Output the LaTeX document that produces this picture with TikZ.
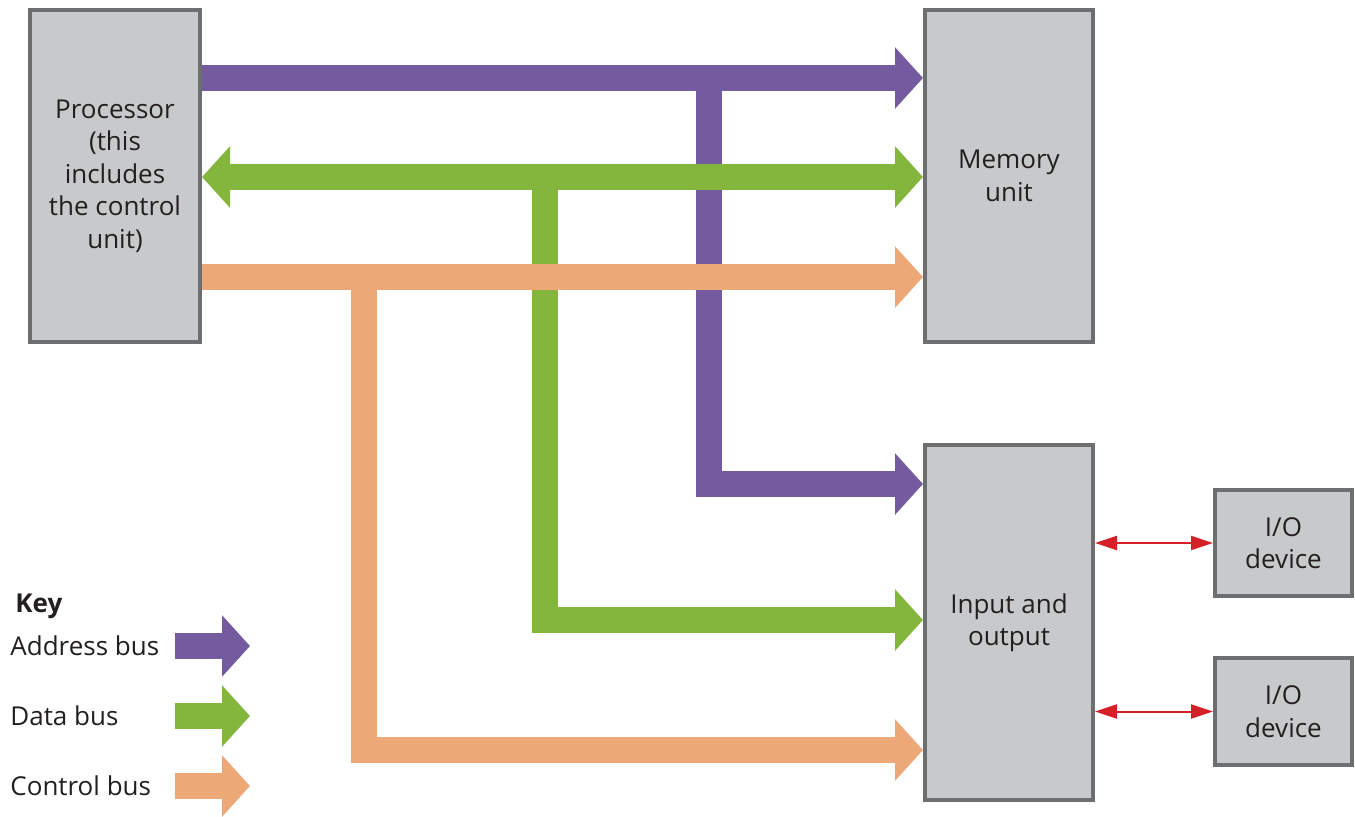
\documentclass[tikz,border=0pt]{standalone}
\usepackage{fontspec}
\setmainfont{Open Sans}
\usepackage{xcolor}
\usetikzlibrary{arrows.meta}

\definecolor{addrc}{HTML}{745A9E}
\definecolor{datac}{HTML}{84B53C}
\definecolor{ctrlc}{HTML}{EDA878}
\definecolor{boxfill}{HTML}{C8C9CB}
\definecolor{boxline}{HTML}{6D6E70}
\definecolor{txtc}{HTML}{231F20}
\definecolor{linkc}{HTML}{D42027}

\begin{document}
\begin{tikzpicture}[x=0.5pt, y=-0.5pt, line join=miter,
    unit/.style={draw=boxline, fill=boxfill, line width=2pt, align=center,
      text=txtc, font=\fontsize{13}{16.25}\selectfont},
    bus/.style={line width=13pt, -{Triangle[length=14pt,width=30pt]}},
    busboth/.style={line width=13pt, {Triangle[length=14pt,width=30pt]}-{Triangle[length=14pt,width=30pt]}},
    link/.style={draw=linkc, line width=1pt, {Triangle[length=11pt,width=7pt]}-{Triangle[length=11pt,width=7pt]}},
    keytxt/.style={anchor=west, text=txtc, font=\fontsize{13}{16}\selectfont, inner sep=0pt}]
  \useasboundingbox (0,0) rectangle (1355,816);

  % units
  \node[unit, minimum width=85pt, minimum height=166pt] (proc) at (115,176)
    {Processor\\(this\\includes\\the control\\unit)};
  \node[unit, minimum width=84pt, minimum height=166pt] (mem) at (1009,176) {Memory\\unit};
  \node[unit, minimum width=84pt, minimum height=177.5pt] (io) at (1009,622.5) {Input and\\output};
  \node[unit, minimum width=68.5pt, minimum height=53pt] (dev1) at (1283.5,543) {I/O\\device};
  \node[unit, minimum width=68.5pt, minimum height=53.5pt] (dev2) at (1283.5,711.5) {I/O\\device};

  % bus rows and branch columns
  \coordinate (ya) at (0,78);
  \coordinate (yd) at (0,177);
  \coordinate (yc) at (0,277);
  \coordinate (xa) at (709,0);
  \coordinate (xd) at (545,0);
  \coordinate (xc) at (364,0);
  \coordinate (ia) at (0,484);
  \coordinate (id) at (0,620);
  \coordinate (ic) at (0,750);

  % branches down to input and output
  \draw[bus, addrc] (xa |- ya) -- (xa |- ia) -- (io.west |- ia);
  \draw[bus, datac] (xd |- yd) -- (xd |- id) -- (io.west |- id);
  \draw[bus, ctrlc] (xc |- yc) -- (xc |- ic) -- (io.west |- ic);

  % main buses
  \draw[bus, addrc] (proc.east |- ya) -- (mem.west |- ya);
  \draw[busboth, datac] (proc.east |- yd) -- (mem.west |- yd);
  \draw[bus, ctrlc] (proc.east |- yc) -- (mem.west |- yc);

  % devices
  \draw[link] (io.east |- dev1) -- (dev1.west);
  \draw[link] (io.east |- dev2) -- (dev2.west);

  % key
  \node[keytxt, font=\fontsize{13}{16}\selectfont\bfseries] (key) at (15,606) {Key};
  \foreach \name/\lab/\col/\y in {ka/Address bus/addrc/646, kd/Data bus/datac/716, kc/Control bus/ctrlc/786} {
    \node[keytxt] (\name) at (10,\y) {\lab};
    \coordinate (\name s) at (175,\y);
    \coordinate (\name e) at (250,\y);
    \draw[bus, \col] (\name s) -- (\name e);
  }
\end{tikzpicture}
\end{document}
